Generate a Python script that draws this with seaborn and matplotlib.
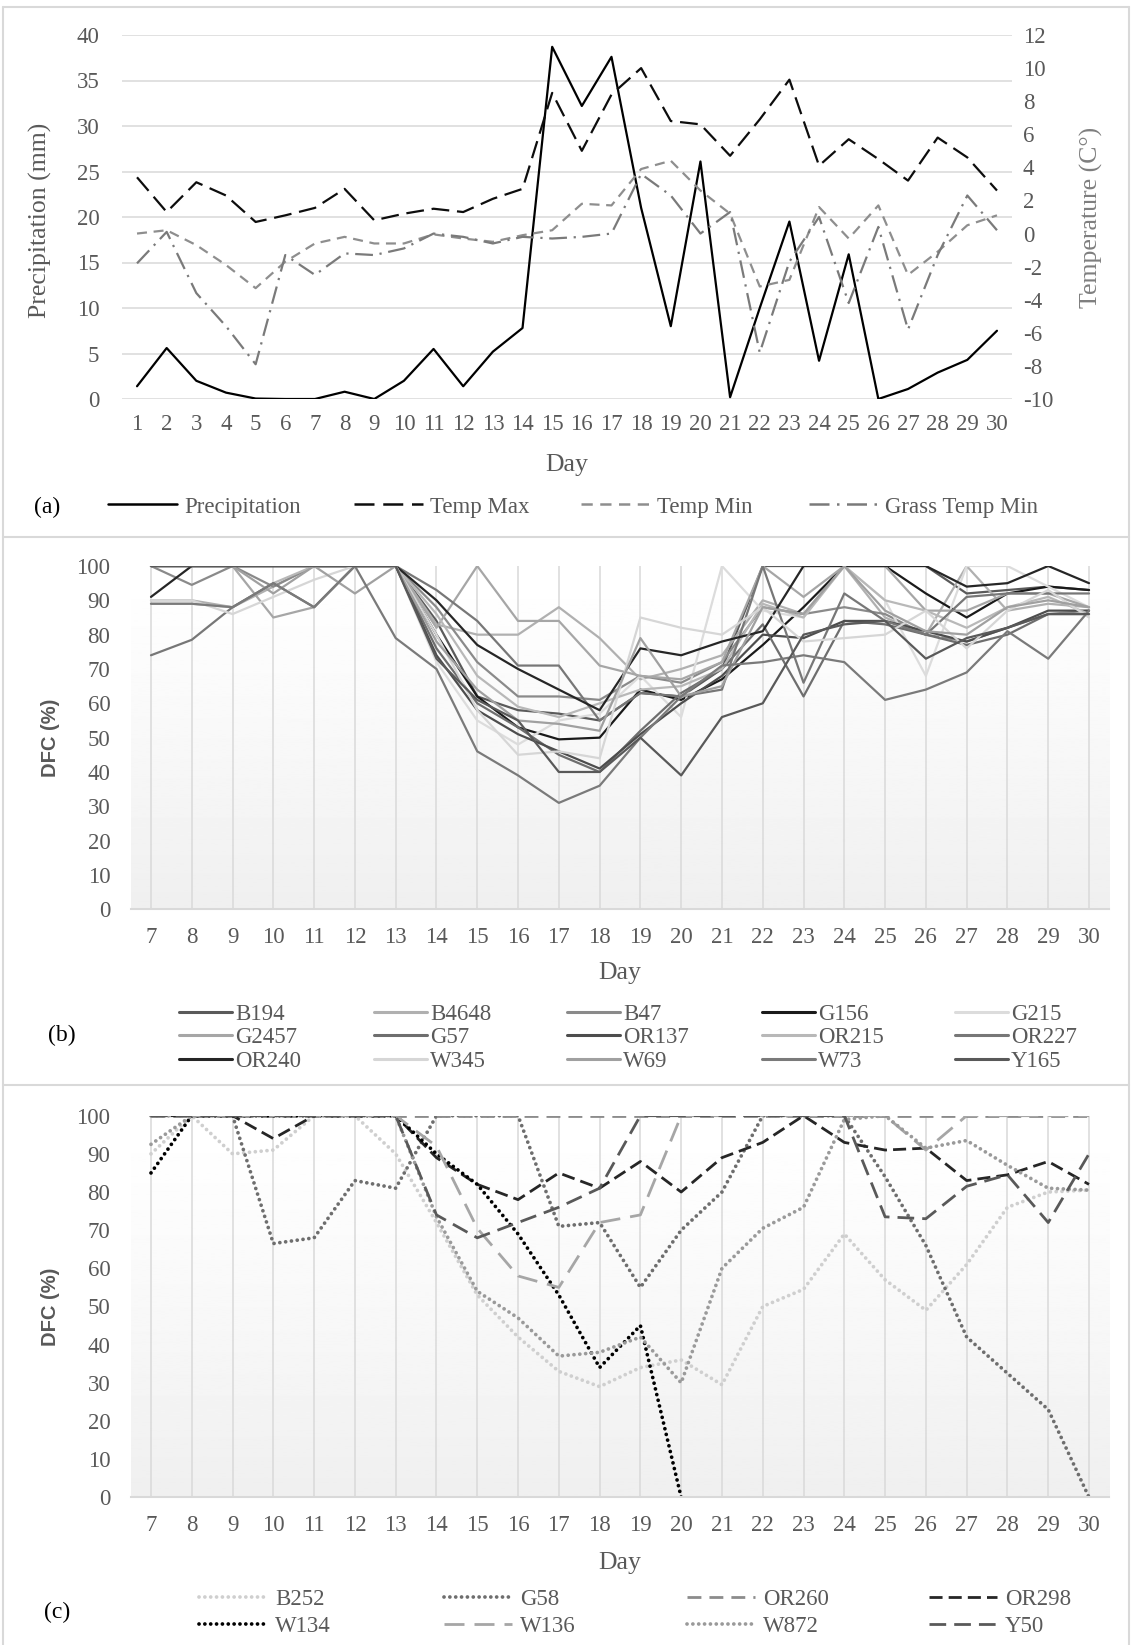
import numpy as np
import pandas as pd
import matplotlib
matplotlib.use("Agg")
import matplotlib.pyplot as plt
import seaborn as sns
from matplotlib.lines import Line2D
from matplotlib.font_manager import FontProperties

# ---------------- DATA ----------------
days_a = list(range(1, 31))
precipitation = [1.4, 5.6, 2.0, 0.7, 0.05, 0, 0, 0.8, 0, 2.0, 5.5, 1.4, 5.2, 7.8, 38.7,
                 32.2, 37.6, 21.0, 8.0, 26.1, 0.2, 10.0, 19.5, 4.2, 15.9, 0, 1.1, 2.9, 4.3, 7.5]
temp_max = [3.4, 1.3, 3.1, 2.3, 0.7, 1.1, 1.55, 2.7, 0.8, 1.2, 1.5, 1.3, 2.1, 2.7, 8.5,
            5.0, 8.4, 10.0, 6.8, 6.6, 4.7, 6.9, 9.3, 4.1, 5.7, 4.5, 3.2, 5.8, 4.6, 2.6]
temp_min = [0.0, 0.2, -0.7, -1.9, -3.3, -1.7, -0.6, -0.2, -0.6, -0.6, -0.05, -0.3, -0.5, -0.1, 0.2,
            1.8, 1.7, 3.9, 4.4, 2.6, 1.2, -3.2, -2.8, 1.6, -0.3, 1.7, -2.5, -1.1, 0.5, 1.1]
grass_temp_min = [-1.8, 0.1, -3.6, -5.6, -7.9, -1.3, -2.5, -1.2, -1.3, -0.9, 0.0, -0.2, -0.6, -0.2, -0.3,
                  -0.2, 0.0, 3.6, 2.3, 0.0, 1.3, -7.2, -1.7, 1.0, -4.2, 0.4, -5.8, -1.3, 2.3, 0.2]

days_bc = list(range(7, 31))
b_names = ["B194", "B4648", "B47", "G156", "G215", "G2457", "G57", "OR137",
           "OR215", "OR227", "OR240", "W345", "W69", "W73", "Y165"]
B194 = [100, 100, 100, 100, 100, 100, 100, 84, 62, 58, 57, 55, 63, 62, 70, 100, 100, 100, 100, 100, 92, 93, 94, 93]
B4648 = [90, 90, 88, 94, 100, 100, 100, 83, 80, 80, 88, 79, 67, 70, 74, 90, 86, 100, 85, 80, 100, 87, 89, 88]
B47 = [100, 94.5, 100, 94, 100, 100, 100, 88, 72, 62, 62, 61, 68, 66, 72, 88, 86, 88, 86, 80, 78, 82, 86, 87]
G156 = [100, 100, 100, 100, 100, 100, 100, 80, 62, 53, 49.5, 50, 64, 61, 67, 77, 88, 100, 100, 92, 85, 92, 94, 93]
G215 = [100, 100, 100, 100, 100, 100, 100, 72, 55, 48, 55, 57, 68, 56, 100, 87, 85, 100, 90, 68, 100, 100, 94, 88]
G2457 = [100, 100, 100, 85, 88, 100, 100, 82, 100, 84, 84, 71, 68, 67, 72, 100, 91, 100, 100, 87, 87, 92, 92, 88]
G57 = [100, 100, 100, 100, 100, 100, 100, 76, 60, 53, 45, 40, 52, 63, 70, 83, 62, 84, 83, 80, 77, 80, 86, 86]
OR137 = [100, 100, 100, 100, 100, 100, 100, 74, 58, 51, 46, 41, 51, 60, 68, 80, 79, 84, 84, 81, 78, 82, 87, 87]
OR215 = [89, 89, 88, 95, 100, 100, 100, 86, 68, 59, 56, 60, 64, 65, 70, 89, 85, 100, 90, 87, 82, 88, 91, 86]
OR227 = [74, 78.5, 88, 95, 88, 100, 100, 93, 84, 71, 71, 55, 63, 62, 64, 100, 66, 92, 84, 80, 91, 92, 92, 92]
OR240 = [91, 100, 100, 100, 100, 100, 100, 90, 77, 70, 64, 58, 76, 74, 78, 81, 100, 100, 100, 100, 94, 95, 100, 95]
W345 = [90, 90, 86, 91, 96, 100, 100, 80, 58, 45, 46, 44, 85, 82, 80, 88, 78, 79, 80, 87, 76, 87, 93, 85]
W69 = [100, 100, 100, 92, 100, 92, 100, 78, 64, 55, 54, 52, 79, 62, 65, 88, 86, 100, 87, 81, 80, 88, 90, 88]
W73 = [89, 89, 88, 95, 88, 100, 79, 70, 46, 39, 31, 36, 50, 62, 71, 72, 74, 72, 61, 64, 69, 81, 73, 87]
Y165 = [100, 100, 100, 100, 100, 100, 100, 73, 61, 55, 40, 40, 50, 39, 56, 60, 80, 83, 84, 73, 79, 82, 86, 86]
b_values = [B194, B4648, B47, G156, G215, G2457, G57, OR137, OR215, OR227, OR240, W345, W69, W73, Y165]

nan = np.nan
c_names = ["B252", "G58", "OR260", "OR298", "W134", "W136", "W872", "Y50"]
B252 = [90, 100, 90, 91, 100, 100, 90, 72, 53, 42, 33, 29, 34, 36, 29.5, 50, 54.5, 69, 57, 49, 61, 76, 80, 80.5]
G58 = [100, 100, 100, 66.5, 68, 83, 81, 100, 100, 100, 71, 72, 55, 70, 80, 100, 100, 100, 84, 66, 42, 32.5, 23, 0]
OR260 = [100] * 24
OR298 = [100, 100, 100, 94, 100, 100, 100, 89, 82, 78, 85, 81, 88, 80, 89, 93, 100, 93, 91, 91.5, 83, 84.5, 88, 82]
W134 = [85, 100, 100, 100, 100, 100, 100, 90, 82, 69, 53, 34, 45, 0, nan, nan, nan, nan, nan, nan, nan, nan, nan, nan]
W136 = [100, 100, 100, 100, 100, 100, 100, 92, 70.5, 58, 55, 72, 74, 100, 100, 100, 100, 100, 100, 91, 100, 100, 100, 100]
W872 = [92.5, 100, 100, 100, 100, 100, 100, 73.5, 54, 47, 37, 38, 42, 30, 60, 70.5, 76, 99, 100, 91.5, 93.5, 87, 81, 80.5]
Y50 = [100, 100, 100, 100, 100, 100, 100, 74, 68, 72, 76, 81, 100, 100, 100, 100, 100, 100, 73.5, 73, 81.5, 84.5, 72, 90]
c_values = [B252, G58, OR260, OR298, W134, W136, W872, Y50]

# ---------------- STYLE ----------------
sns.set_style("white")
plt.rcParams["font.family"] = ["Liberation Serif", "DejaVu Serif"]
plt.rcParams["axes.unicode_minus"] = False

W, H = 1132, 1645
GREY = "#595959"
GRID = "#d9d9d9"
TICK_FS = 16.5
LAB_FS = 18.5
LEG_FS = 16.5
SERIF = "Liberation Serif"

b_colors = {"B194": "#5a5a5a", "B4648": "#b0b0b0", "B47": "#8a8a8a", "G156": "#1a1a1a",
            "G215": "#dcdcdc", "G2457": "#a6a6a6", "G57": "#6e6e6e", "OR137": "#4d4d4d",
            "OR215": "#b8b8b8", "OR227": "#777777", "OR240": "#262626", "W345": "#d6d6d6",
            "W69": "#a0a0a0", "W73": "#7a7a7a", "Y165": "#595959"}

DOT = (0, (0.01, 1.55))
c_styles = {"B252": dict(color="#cfcfcf", linestyle=DOT, dash_capstyle="round", lw=2.7),
            "G58": dict(color="#6e6e6e", linestyle=DOT, dash_capstyle="round", lw=2.7),
            "OR260": dict(color="#8c8c8c", linestyle=(0, (5, 2.9)), lw=2.0),
            "OR298": dict(color="#262626", linestyle=(0, (4.7, 2.2)), lw=2.0),
            "W134": dict(color="#000000", linestyle=DOT, dash_capstyle="round", lw=2.7),
            "W136": dict(color="#a6a6a6", linestyle=(0, (7.2, 3.6)), lw=2.0),
            "W872": dict(color="#9a9a9a", linestyle=DOT, dash_capstyle="round", lw=2.7),
            "Y50": dict(color="#595959", linestyle=(0, (6, 2.9)), lw=2.0)}

fig = plt.figure(figsize=(W / 100, H / 100), dpi=100)


def px_axes(x0, y0, x1, y1):
    return fig.add_axes([x0 / W, 1 - y1 / H, (x1 - x0) / W, (y1 - y0) / H])


def ftext(x, y, s, **kw):
    fig.text(x / W, 1 - y / H, s, ha="center", va="center", **kw)


def legend_entry(x, y, label, hl, pad, **line_kw):
    fpx = LEG_FS * 100 / 72
    h = Line2D([], [], **line_kw)
    fig.legend([h], [label], loc="center left", bbox_to_anchor=(x / W, 1 - y / H),
               bbox_transform=fig.transFigure, frameon=False, borderpad=0,
               borderaxespad=0, handlelength=hl / fpx, handletextpad=pad / fpx,
               prop=FontProperties(family=SERIF, size=LEG_FS), labelcolor=GREY)


# ---------------- panel frames ----------------
for yy in (7, 537, 1085):
    fig.add_artist(Line2D([3 / W, 1129 / W], [1 - yy / H, 1 - yy / H],
                          transform=fig.transFigure, color=GRID, lw=1.5))
for xx in (3, 1129):
    fig.add_artist(Line2D([xx / W, xx / W], [1 - 7 / H, 0],
                          transform=fig.transFigure, color=GRID, lw=1.5))

# ---------------- panel (a) ----------------
ax_a = px_axes(122.2, 35, 1011.8, 399)
sns.lineplot(x=days_a, y=precipitation, ax=ax_a, color="#000000", lw=1.6)
ax2 = ax_a.twinx()
sns.lineplot(x=days_a, y=temp_max, ax=ax2, color="#0d0d0d", lw=1.6, linestyle=(0, (8, 3.5)))
sns.lineplot(x=days_a, y=temp_min, ax=ax2, color="#8e8e8e", lw=1.6, linestyle=(0, (4.5, 3)))
sns.lineplot(x=days_a, y=grass_temp_min, ax=ax2, color="#7a7a7a", lw=1.6,
             linestyle=(0, (8, 3, 1, 3)))

ax_a.set_xlim(0.5, 30.5)
ax_a.set_ylim(0, 40)
ax_a.set_yticks(range(0, 41, 5))
ax_a.set_xticks(days_a)
ax_a.set_xticklabels([str(d) for d in days_a])
ax2.set_ylim(-10, 12)
ax2.set_yticks(range(-10, 13, 2))
ax_a.grid(axis="y", color=GRID, lw=1.1)
ax_a.grid(axis="x", visible=False)
ax_a.set_axisbelow(True)
for a in (ax_a, ax2):
    for s in a.spines.values():
        s.set_visible(False)
    a.set_xlabel("")
    a.set_ylabel("")
ax_a.tick_params(axis="x", length=0, pad=11, labelsize=TICK_FS, labelcolor=GREY)
ax_a.tick_params(axis="y", length=0, pad=16.5, labelsize=TICK_FS, labelcolor=GREY)
ax2.tick_params(axis="y", length=0, pad=8, labelsize=TICK_FS, labelcolor=GREY)

ftext(40, 220, "Precipitation (mm)", rotation=90, fontsize=LAB_FS, color=GREY)
ftext(1091, 217, "Temperature (C°)", rotation=90, fontsize=LAB_FS, color="#7f7f7f")
ftext(567, 465, "Day", fontsize=LAB_FS, color=GREY)
ftext(47, 507, "(a)", fontsize=17, color="#000000")

legend_entry(108, 507, "Precipitation", 69, 7, color="#000000", lw=1.8)
legend_entry(354, 507, "Temp Max", 69, 7, color="#0d0d0d", lw=1.8, linestyle=(0, (8, 3.5)))
legend_entry(581, 507, "Temp Min", 69, 7, color="#8e8e8e", lw=1.8, linestyle=(0, (4.5, 3)))
legend_entry(809, 507, "Grass Temp Min", 69, 7, color="#7a7a7a", lw=1.8,
             linestyle=(0, (8, 3, 1, 3)))


# ---------------- panels (b) and (c) common ----------------
def style_dfc(ax):
    grad = np.linspace(0, 1, 256).reshape(-1, 1)
    vals = 1 - 0.062 * (1 - grad) ** 1.2
    ax.imshow(vals, extent=(0, 1, 0, 1), transform=ax.transAxes, aspect="auto",
              cmap="gray", vmin=0, vmax=1, origin="lower", zorder=0)
    ax.set_xlim(6.5, 30.5)
    ax.set_ylim(0, 100)
    ax.set_xticks(days_bc)
    ax.set_xticklabels([str(d) for d in days_bc])
    ax.set_yticks(range(0, 101, 10))
    ax.grid(axis="x", color=GRID, lw=1.1)
    ax.grid(axis="y", visible=False)
    ax.set_axisbelow(True)
    for k, s in ax.spines.items():
        s.set_visible(k == "bottom")
    ax.spines["bottom"].set_color(GRID)
    ax.spines["bottom"].set_linewidth(1.5)
    ax.set_xlabel("")
    ax.set_ylabel("")
    ax.tick_params(axis="x", length=0, pad=12.5, labelsize=TICK_FS, labelcolor=GREY)
    ax.tick_params(axis="y", length=0, pad=14.5, labelsize=TICK_FS, labelcolor=GREY)


# ---------------- panel (b) ----------------
ax_b = px_axes(130.6, 566, 1109.4, 909.3)
for name, vals in zip(b_names, b_values):
    sns.lineplot(x=days_bc, y=vals, ax=ax_b, color=b_colors[name], lw=1.6)
style_dfc(ax_b)
ftext(50, 737.6, "DFC (%)", rotation=90, fontsize=14.5, color=GREY,
      family="Liberation Sans", weight="bold")
ftext(620, 973, "Day", fontsize=LAB_FS, color=GREY)
ftext(62, 1035, "(b)", fontsize=17, color="#000000")

b_cols_x = [179, 374, 567, 762, 955]
b_rows_y = [1014, 1037.5, 1061]
for i, name in enumerate(b_names):
    r, c = divmod(i, 5)
    legend_entry(b_cols_x[c], b_rows_y[r], name, 53, 3, color=b_colors[name], lw=2.2)

# ---------------- panel (c) ----------------
ax_c = px_axes(130.6, 1115.7, 1109.4, 1497.3)
for name, vals in zip(c_names, c_values):
    st = dict(c_styles[name])
    cap = st.pop("dash_capstyle", None)
    sns.lineplot(x=days_bc, y=vals, ax=ax_c, **st)
    if cap:
        ax_c.lines[-1].set_dash_capstyle(cap)
style_dfc(ax_c)
ftext(50, 1306.5, "DFC (%)", rotation=90, fontsize=14.5, color=GREY,
      family="Liberation Sans", weight="bold")
ftext(620, 1563, "Day", fontsize=LAB_FS, color=GREY)
ftext(57, 1612, "(c)", fontsize=17, color="#000000")

c_cols_x = [199, 444, 687, 929]
c_rows_y = [1599, 1626]
for i, name in enumerate(c_names):
    r, c = divmod(i, 4)
    legend_entry(c_cols_x[c], c_rows_y[r], name, 68, 8, **c_styles[name])

fig.savefig("out.png", dpi=100)
